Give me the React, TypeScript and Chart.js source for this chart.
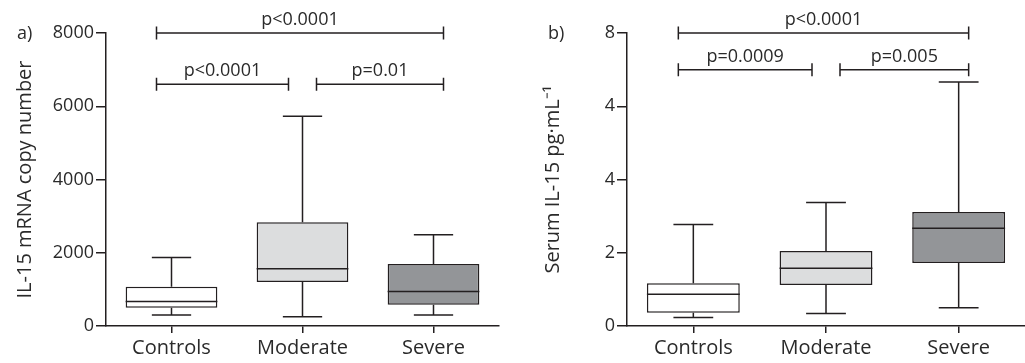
import React, { useEffect, useRef } from 'react';
import { Chart, registerables } from 'chart.js';

Chart.register(...registerables);

// ---------- data ----------
const CATEGORIES = ['Controls', 'Moderate', 'Severe'];

// Panel a) IL-15 mRNA copy number
const A_MIN = [300, 250, 300];
const A_Q1 = [500, 1200, 580];
const A_MEDIAN = [670, 1560, 940];
const A_Q3 = [1070, 2830, 1690];
const A_MAX = [1870, 5730, 2490];
const A_Y_TICKS = ['0', '2000', '4000', '6000', '8000'];

// Panel b) Serum IL-15 pg·mL-1
const B_MIN = [0.23, 0.34, 0.5];
const B_Q1 = [0.36, 1.12, 1.72];
const B_MEDIAN = [0.87, 1.58, 2.67];
const B_Q3 = [1.17, 2.05, 3.11];
const B_MAX = [2.77, 3.37, 6.66];
const B_Y_TICKS = ['0', '2', '4', '4', '8'];

const BOX_COLORS = ['#ffffff', '#dcddde', '#939598'];

// significance brackets: from category, to category, level (y value), label
const A_BRACKETS = [
  { from: 0, to: 2, level: 8000, label: 'p<0.0001' },
  { from: 0, to: 1, level: 6600, label: 'p<0.0001' },
  { from: 1, to: 2, level: 6600, label: 'p=0.01' },
];
const B_BRACKETS = [
  { from: 0, to: 2, level: 8, label: 'p<0.0001' },
  { from: 0, to: 1, level: 7, label: 'p=0.0009' },
  { from: 1, to: 2, level: 7, label: 'p=0.005' },
];

// ---------- styles ----------
const FONT = "'Open Sans', sans-serif";
const TICK_SIZE = 18;
const LABEL_SIZE = 20;
const TEXT = '#2a2a2a';
const LINE = '#231f20';
const LW = 1.5;

type PanelProps = {
  left: number;
  width: number;
  yWidth: number;
  titlePad: number;
  panelLabel: string;
  panelLabelX: number;
  yTitle: string;
  yMax: number;
  yStep: number;
  yTicks: string[];
  mins: number[];
  q1: number[];
  medians: number[];
  q3: number[];
  maxs: number[];
  brackets: { from: number; to: number; level: number; label: string }[];
  rightPad: number;
};

function Panel(p: PanelProps) {
  const ref = useRef<HTMLCanvasElement | null>(null);

  useEffect(() => {
    if (!ref.current) return;
    const n = CATEGORIES.length;
    const boxPlugin = {
      id: 'boxWhiskers',
      afterDatasetsDraw(chart: any) {
        const ctx = chart.ctx;
        const xs = chart.scales.x;
        const ys = chart.scales.y;
        const meta = chart.getDatasetMeta(0);
        const catW = (xs.right - xs.left) / n;
        const capW = catW * 0.3;
        ctx.save();
        ctx.strokeStyle = LINE;
        ctx.lineWidth = LW;
        for (let i = 0; i < n; i++) {
          const bar = meta.data[i];
          const cx = bar.x;
          const w = bar.width;
          const pMin = ys.getPixelForValue(p.mins[i]);
          const pMax = ys.getPixelForValue(p.maxs[i]);
          const pQ1 = ys.getPixelForValue(p.q1[i]);
          const pQ3 = ys.getPixelForValue(p.q3[i]);
          const pMed = ys.getPixelForValue(p.medians[i]);
          ctx.beginPath();
          ctx.moveTo(cx, pQ3);
          ctx.lineTo(cx, pMax);
          ctx.moveTo(cx - capW / 2, pMax);
          ctx.lineTo(cx + capW / 2, pMax);
          ctx.moveTo(cx, pQ1);
          ctx.lineTo(cx, pMin);
          ctx.moveTo(cx - capW / 2, pMin);
          ctx.lineTo(cx + capW / 2, pMin);
          ctx.moveTo(cx - w / 2, pMed);
          ctx.lineTo(cx + w / 2, pMed);
          ctx.stroke();
        }
        ctx.restore();
      },
      afterDraw(chart: any) {
        const ctx = chart.ctx;
        const xs = chart.scales.x;
        const ys = chart.scales.y;
        ctx.save();
        ctx.strokeStyle = LINE;
        ctx.lineWidth = LW;
        ctx.fillStyle = TEXT;
        ctx.font = `${TICK_SIZE}px ${FONT}`;
        for (const b of p.brackets) {
          const lx = xs.getPixelForValue(b.from) + (b.from === 0 ? -15 : 14);
          const rx = xs.getPixelForValue(b.to) + (b.to === n - 1 ? 10 : -14);
          const yy = ys.getPixelForValue(b.level);
          ctx.beginPath();
          ctx.moveTo(lx, yy);
          ctx.lineTo(rx, yy);
          ctx.moveTo(lx, yy - 6.5);
          ctx.lineTo(lx, yy + 6.5);
          ctx.moveTo(rx, yy - 6.5);
          ctx.lineTo(rx, yy + 6.5);
          ctx.stroke();
          ctx.textAlign = 'center';
          ctx.textBaseline = 'alphabetic';
          ctx.fillText(b.label, (lx + rx) / 2, yy - 8);
        }
        ctx.textAlign = 'left';
        ctx.textBaseline = 'middle';
        ctx.fillText(p.panelLabel, p.panelLabelX, 34);
        ctx.restore();
      },
    };

    const chart = new Chart(ref.current, {
      type: 'bar',
      data: {
        labels: CATEGORIES,
        datasets: [
          {
            data: p.q1.map((v, i) => [v, p.q3[i]]) as any,
            backgroundColor: BOX_COLORS,
            borderColor: LINE,
            borderWidth: LW,
            borderSkipped: false,
            barPercentage: 0.7,
            categoryPercentage: 1,
          },
        ],
      },
      options: {
        responsive: false,
        animation: false,
        events: [],
        layout: { padding: { top: 33, right: p.rightPad, bottom: 0, left: 0 } },
        plugins: { legend: { display: false }, tooltip: { enabled: false } },
        scales: {
          x: {
            offset: true,
            afterFit: (s: any) => {
              s.height = 37;
            },
            grid: {
              display: true,
              drawOnChartArea: false,
              drawTicks: true,
              tickLength: 7,
              color: LINE,
              lineWidth: LW,
              offset: false,
            },
            border: { display: true, color: LINE, width: LW },
            ticks: {
              color: TEXT,
              font: { family: FONT, size: LABEL_SIZE },
              padding: 3,
              maxRotation: 0,
            },
          },
          y: {
            min: 0,
            max: p.yMax,
            afterFit: (s: any) => {
              s.width = p.yWidth;
            },
            grid: {
              display: true,
              drawOnChartArea: false,
              drawTicks: true,
              tickLength: 10,
              color: LINE,
              lineWidth: LW,
            },
            border: { display: true, color: LINE, width: LW },
            ticks: {
              stepSize: p.yStep,
              color: TEXT,
              font: { family: FONT, size: TICK_SIZE },
              padding: 2,
              callback: (_v: any, i: number) => p.yTicks[i],
            },
            title: {
              display: true,
              text: p.yTitle,
              color: TEXT,
              font: { family: FONT, size: LABEL_SIZE },
              padding: { top: p.titlePad, bottom: 0 },
            },
          },
        },
      },
      plugins: [boxPlugin],
    });
    return () => chart.destroy();
  }, []);

  return (
    <div style={{ position: 'absolute', left: p.left, top: 0, width: p.width, height: 363 }}>
      <canvas ref={ref} width={p.width} height={363} style={{ width: p.width, height: 363 }} />
    </div>
  );
}

export default function App() {
  return (
    <div style={{ position: 'absolute', left: 0, top: 0, width: 1025, height: 363, background: '#fff' }}>
      <Panel
        left={0}
        width={512}
        yWidth={106}
        titlePad={13}
        panelLabel="a)"
        panelLabelX={17}
        yTitle="IL-15 mRNA copy number"
        yMax={8000}
        yStep={2000}
        yTicks={A_Y_TICKS}
        mins={A_MIN}
        q1={A_Q1}
        medians={A_MEDIAN}
        q3={A_Q3}
        maxs={A_MAX}
        brackets={A_BRACKETS}
        rightPad={13}
      />
      <Panel
        left={512}
        width={513}
        yWidth={115}
        titlePad={29}
        panelLabel="b)"
        panelLabelX={36}
        yTitle="Serum IL-15 pg·mL⁻¹"
        yMax={8}
        yStep={2}
        yTicks={B_Y_TICKS}
        mins={B_MIN}
        q1={B_Q1}
        medians={B_MEDIAN}
        q3={B_Q3}
        maxs={B_MAX}
        brackets={B_BRACKETS}
        rightPad={0}
      />
    </div>
  );
}
